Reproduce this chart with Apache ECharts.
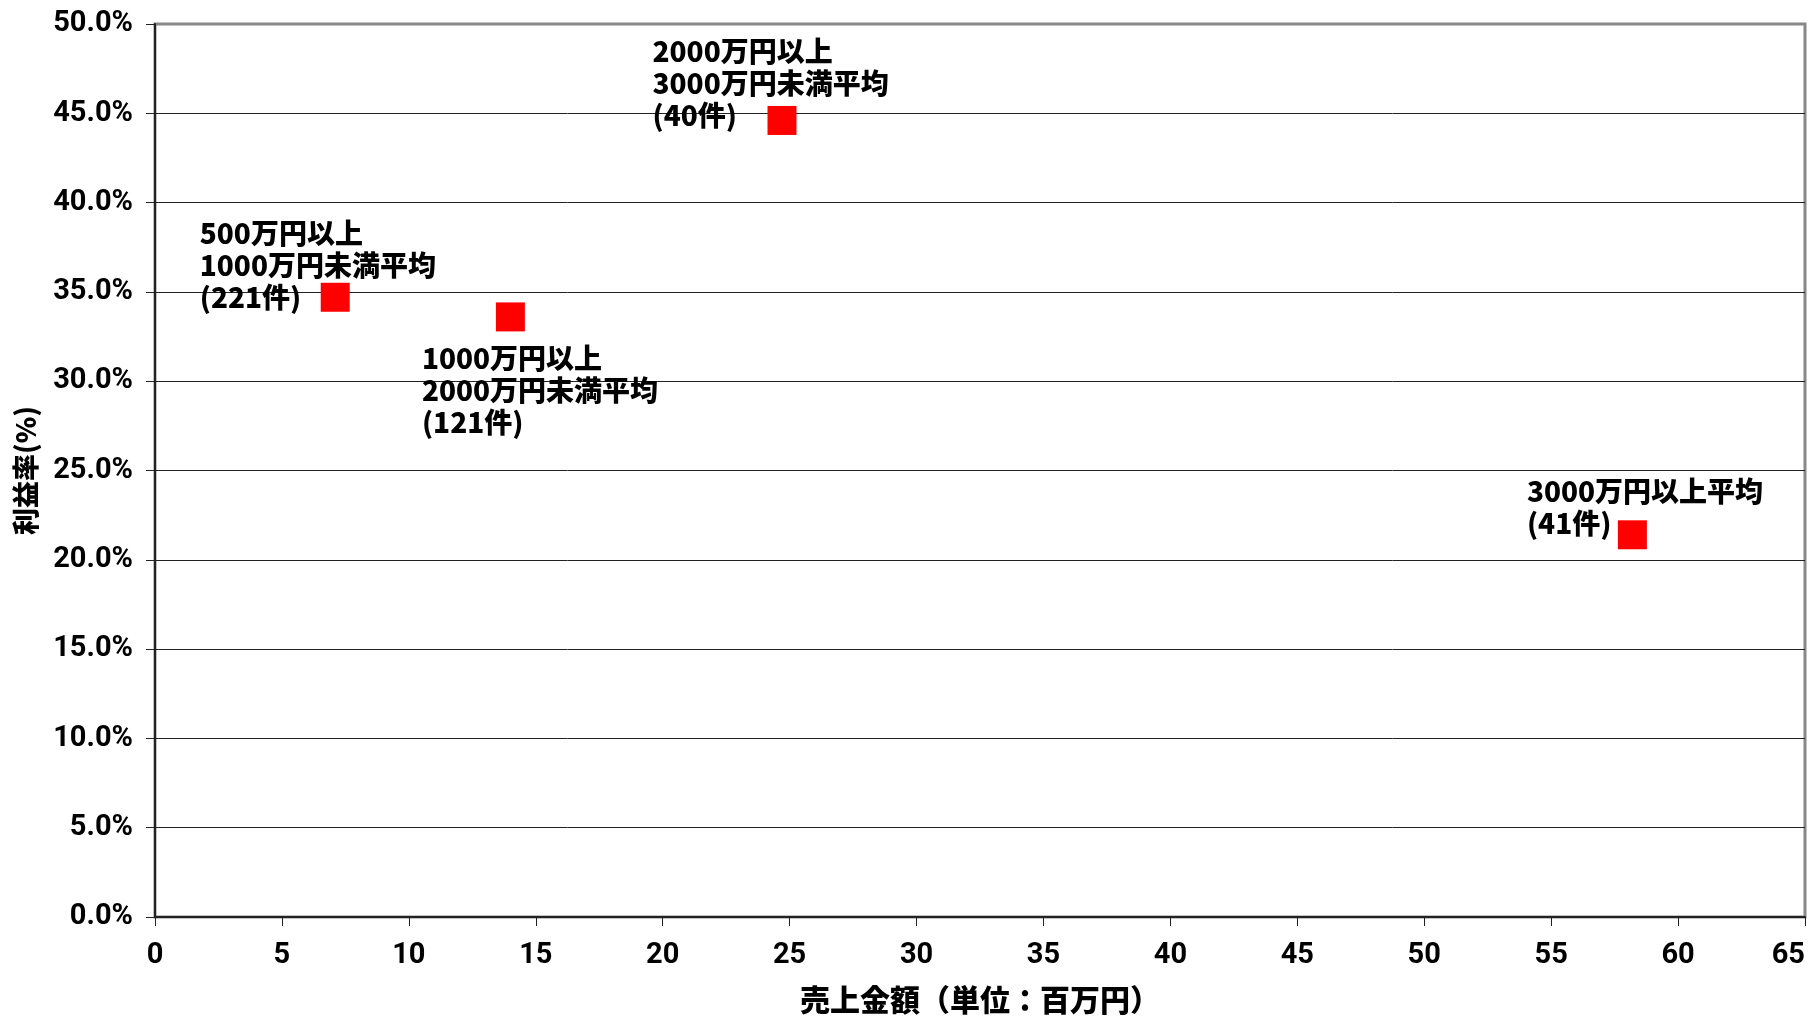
<!DOCTYPE html>
<html lang="ja">
<head>
<meta charset="utf-8">
<title>売上金額と利益率</title>
<script src="https://cdn.jsdelivr.net/npm/echarts@6/dist/echarts.min.js"></script>
<style>
  html, body { margin: 0; padding: 0; background: #fff; }
  #chart { width: 1814px; height: 1018px; }
</style>
</head>
<body>
<div id="chart"></div>
<script>
// Average sales (million yen) and profit rate (%) per sales bracket
const categories = [
  '500万円以上\n1000万円未満平均\n(221件)',
  '1000万円以上\n2000万円未満平均\n(121件)',
  '2000万円以上\n3000万円未満平均\n(40件)',
  '3000万円以上平均\n(41件)'
];
const salesMillionYen = [7.1, 14.0, 24.7, 58.2];
const profitRatePct = [34.7, 33.6, 44.6, 21.4];

const xTicks = { min: 0, max: 65, interval: 5 };
const yTicks = { min: 0, max: 50, interval: 5 };

// Where each bracket's caption sits, relative to its marker box
const captionPlacement = [
  [-121, -65],
  [-74, 40],
  [-115, -71],
  [-91, -45]
];

const tickFont = "Roboto, 'Liberation Sans Narrow', 'Noto Sans', sans-serif";
const jpFont = "'Noto Sans CJK JP', 'Noto Sans', sans-serif";

const points = categories.map((name, i) => ({
  name: name,
  value: [salesMillionYen[i], profitRatePct[i]],
  label: {
    show: true,
    formatter: name,
    position: captionPlacement[i],
    align: 'left',
    verticalAlign: 'top',
    fontFamily: jpFont,
    fontWeight: 900,
    fontSize: 28,
    lineHeight: 32,
    color: '#000'
  }
}));

const chart = echarts.init(document.getElementById('chart'), null, { renderer: 'canvas' });
chart.setOption({
  animation: false,
  backgroundColor: '#fff',
  grid: {
    left: 155, right: 9, top: 24, bottom: 101,
    containLabel: false,
    outerBoundsMode: 'none',
    show: true,
    borderColor: '#888',
    borderWidth: 3,
    backgroundColor: '#fff'
  },
  xAxis: {
    type: 'value',
    min: xTicks.min, max: xTicks.max, interval: xTicks.interval,
    name: '売上金額（単位：百万円）',
    nameLocation: 'middle',
    nameGap: 68,
    nameTextStyle: { fontFamily: jpFont, fontWeight: 900, fontSize: 30, color: '#000' },
    axisLine: { show: true, onZero: false, lineStyle: { color: '#222', width: 2 } },
    axisTick: { show: true, inside: false, length: 9, lineStyle: { color: '#222', width: 1 } },
    axisLabel: {
      margin: 24,
      fontFamily: tickFont, fontWeight: 'bold', fontSize: 29, color: '#000',
      showMaxLabel: true, showMinLabel: true,
      alignMaxLabel: 'right'
    },
    splitLine: { show: false }
  },
  yAxis: {
    type: 'value',
    min: yTicks.min, max: yTicks.max, interval: yTicks.interval,
    name: '利益率(%)',
    nameLocation: 'middle',
    nameRotate: 90,
    nameGap: 116,
    nameTextStyle: { fontFamily: jpFont, fontWeight: 900, fontSize: 27, color: '#000' },
    axisLine: { show: true, onZero: false, lineStyle: { color: '#222', width: 2 } },
    axisTick: { show: true, inside: false, length: 9, lineStyle: { color: '#222', width: 1 } },
    axisLabel: {
      margin: 22,
      fontFamily: tickFont, fontWeight: 'bold', fontSize: 29, color: '#000',
      formatter: v => v.toFixed(1) + '%'
    },
    splitLine: {
      show: true,
      showMinLine: false,
      showMaxLine: false,
      lineStyle: { color: '#222', width: 1 }
    }
  },
  series: [{
    type: 'scatter',
    symbol: 'rect',
    symbolSize: 29,
    itemStyle: { color: '#ff0000', opacity: 1 },
    emphasis: { disabled: true },
    data: points,
    z: 5
  }]
});
</script>
</body>
</html>
